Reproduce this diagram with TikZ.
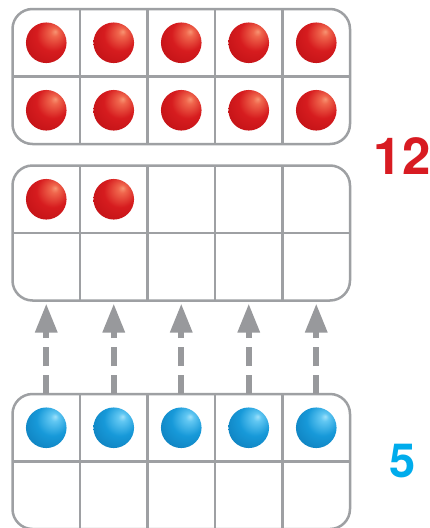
\documentclass[tikz,border=0pt]{standalone}
\usepackage{fontspec}
\newfontfamily\numfont{TeX Gyre Heros}
\usepackage{tikz}
\usetikzlibrary{arrows.meta,positioning,calc}
\usepackage{xcolor}
\definecolor{framegray}{RGB}{158,160,163}
\definecolor{arrowgray}{RGB}{152,153,156}
\definecolor{numred}{RGB}{216,27,34}
\definecolor{numblue}{RGB}{0,172,236}
\pgfdeclareradialshading{redsphere}{\pgfpoint{11bp}{14bp}}{%
  rgb(0bp)=(0.97,0.58,0.45); rgb(5bp)=(0.94,0.40,0.30);
  rgb(20bp)=(0.84,0.11,0.12); rgb(42bp)=(0.74,0.06,0.08);
  rgb(58bp)=(0.58,0.03,0.05); rgb(70bp)=(0.50,0.02,0.04)}
\pgfdeclareradialshading{bluesphere}{\pgfpoint{11bp}{14bp}}{%
  rgb(0bp)=(0.62,0.88,0.98); rgb(5bp)=(0.38,0.78,0.95);
  rgb(20bp)=(0.09,0.60,0.85); rgb(42bp)=(0.05,0.48,0.72);
  rgb(58bp)=(0.03,0.36,0.56); rgb(70bp)=(0.02,0.30,0.48)}

\begin{document}
\begin{tikzpicture}[x=1pt,y=-1pt,>=Latex,
  cell/.style={minimum width=67.5pt,minimum height=67.5pt,inner sep=0pt,outer sep=0pt},
  frame/.style={draw=framegray,line width=2.5pt},
  redball/.style={circle,inner sep=0pt,minimum size=40.6pt,shade,shading=redsphere},
  blueball/.style={circle,inner sep=0pt,minimum size=40.6pt,shade,shading=bluesphere},
  jump/.style={arrowgray,line width=6pt,dash pattern=on 19pt off 9pt,
    -{Triangle[length=29pt,width=21pt]},shorten >=3pt}]
\path[use as bounding box,fill=white] (0,0) rectangle (429,528);
\clip (0,0) rectangle (429,528);
% ten-frames: t = full, m = the two extra, b = the five
\foreach \f/\y in {t/9,m/165.5,b/394}
  \foreach \r in {1,2}
    \foreach \c in {1,...,5}
      \node[cell] (\f-\r-\c) at ({12.5+67.5*(\c-0.5)},{\y+67.5*(\r-0.5)}) {};
\foreach \f in {t,m,b} {
  \draw[frame,rounded corners=20pt] (\f-1-1.north west) rectangle (\f-2-5.south east);
  \draw[frame] (\f-1-1.south west) -- (\f-1-5.south east);
  \foreach \c in {1,...,4}
    \draw[frame] (\f-1-\c.north east) -- (\f-2-\c.south east);
}
% counters
\foreach \r in {1,2}
  \foreach \c in {1,...,5}
    \node[redball] (rb-\r-\c) at (t-\r-\c) {};
\foreach \c in {1,2}
  \node[redball] (rm-\c) at (m-1-\c) {};
\foreach \c in {1,...,5}
  \node[blueball] (bb-\c) at (b-1-\c) {};
% moves
\foreach \c in {1,...,5}
  \draw[jump] (b-1-\c.north) -- (m-2-\c.south);
\node (twelve) [text=numred,font=\numfont\bfseries\fontsize{51}{51}\selectfont] at (402,156.5) {12};
\node (five) [text=numblue,font=\numfont\bfseries\fontsize{47}{47}\selectfont] at (403,461.5) {5};
\end{tikzpicture}
\end{document}
